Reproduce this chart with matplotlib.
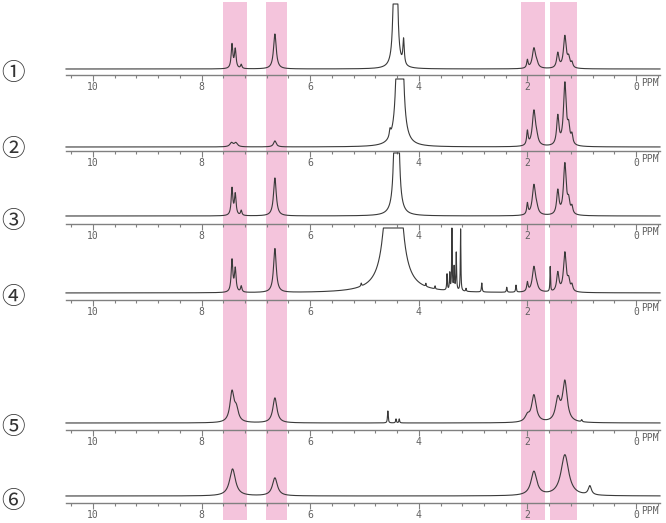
#!/usr/bin/env python
# coding: utf-8

import numpy as np
import matplotlib
matplotlib.use("Agg")
import matplotlib.pyplot as plt

plt.rcParams['font.family'] = ['DejaVu Sans', 'Noto Sans CJK JP']

# Peak lists: (ppm, height in px above baseline, half width in ppm)
peaks_1 = [(7.44, 24, 0.018), (7.38, 19, 0.018), (7.27, 4, 0.015), (6.65, 35, 0.03),
           (4.43, 1400, 0.010), (4.28, 25, 0.015),
           (2.00, 8, 0.015), (1.88, 20, 0.035), (1.83, 4, 0.03),
           (1.44, 15, 0.025), (1.31, 32, 0.03), (1.24, 9, 0.025), (1.18, 5, 0.02)]
peaks_2 = [(7.45, 4, 0.035), (7.37, 4, 0.035), (6.65, 6, 0.03),
           (4.53, 7, 0.015), (4.35, 1770, 0.015),
           (2.00, 14, 0.016), (1.88, 35, 0.035), (1.83, 6, 0.03),
           (1.44, 29, 0.025), (1.31, 62, 0.03), (1.24, 16, 0.025), (1.18, 9, 0.02)]
peaks_3 = [(7.44, 27, 0.018), (7.38, 21, 0.018), (7.27, 5, 0.015), (6.65, 38, 0.03),
           (4.41, 3060, 0.008),
           (2.00, 11, 0.015), (1.88, 30, 0.035), (1.83, 5, 0.03),
           (1.44, 24, 0.025), (1.31, 51, 0.03), (1.24, 12, 0.025), (1.18, 7, 0.02)]
peaks_4 = [(7.44, 32, 0.018), (7.38, 23, 0.018), (7.27, 6, 0.015), (6.65, 44, 0.03),
           (5.06, 3, 0.008), (4.47, 700, 0.059), (3.87, 3, 0.006), (3.70, 3, 0.006),
           (3.48, 16, 0.007), (3.43, 17, 0.007), (3.39, 62, 0.006), (3.35, 23, 0.007),
           (3.31, 38, 0.007), (3.23, 62, 0.006), (3.13, 3, 0.007),
           (2.84, 9, 0.008), (2.38, 5, 0.008), (2.21, 7, 0.008),
           (2.00, 9, 0.015), (1.88, 25, 0.035), (1.83, 4, 0.03), (1.58, 25, 0.006),
           (1.44, 19, 0.025), (1.31, 39, 0.03), (1.24, 10, 0.025), (1.18, 6, 0.02)]
peaks_5 = [(7.44, 30, 0.045), (7.36, 12, 0.045), (6.65, 25, 0.045),
           (4.57, 12, 0.008), (4.42, 4, 0.008), (4.36, 4, 0.008),
           (2.00, 6, 0.05), (1.88, 27, 0.05),
           (1.44, 22, 0.05), (1.31, 40, 0.05), (1.00, 2, 0.01)]
peaks_6 = [(7.43, 27, 0.065), (6.65, 18, 0.055),
           (1.88, 24, 0.065), (1.31, 41, 0.085), (0.85, 9, 0.035)]
clip_heights = [65, 68, 63, 65, 80, 80]

all_peaks = [peaks_1, peaks_2, peaks_3, peaks_4, peaks_5, peaks_6]
labels = ["①", "②", "③", "④", "⑤", "⑥"]

# Highlighted regions (ppm)
bands = [(7.61, 7.16), (6.81, 6.43), (2.12, 1.68), (1.58, 1.09)]

tick_labels = ["10", "8", "6", "4", "2", "0"]
label_ppm = [10, 8, 6, 4, 2, 0]

# Layout in pixels (from top of the picture)
W, H = 666, 523
x_left, x_right = 66, 660
ppm_left, ppm_right = 10.497, -0.442
baseline_px = [69, 147, 216, 293, 423, 496]
axis_px = [75, 151, 224, 300, 430, 503]
row_height = 70


def spectrum(ppm, peaks, clip):
    """
    Sum of Lorentzian lines given as (position, height, half width),
    flattened at the clip height like the plotter did.
    """
    y = np.zeros_like(ppm)
    for pos, height, width in peaks:
        y += height * width ** 2 / ((ppm - pos) ** 2 + width ** 2)
    return np.minimum(y, clip)


fig = plt.figure(figsize=(W / 100, H / 100), dpi=100)

# Pink bands behind everything
bg = fig.add_axes([x_left / W, 0, (x_right - x_left) / W, 1])
bg.set_xlim(ppm_left, ppm_right)
bg.set_ylim(0, 1)
bg.axis("off")
for a, b in bands:
    bg.axvspan(a, b, ymin=3 / H, ymax=521 / H, color="#f4c4dc", lw=0)

ppm = np.linspace(ppm_left, ppm_right, 8000)
ticks = np.arange(-0.4, 10.45, 0.4)

for i in range(6):
    bottom = (H - axis_px[i]) / H
    ax = fig.add_axes([x_left / W, bottom, (x_right - x_left) / W, row_height / H])
    ax.patch.set_alpha(0)
    ax.set_xlim(ppm_left, ppm_right)
    ax.set_ylim(0, row_height)
    for s in ["top", "left", "right"]:
        ax.spines[s].set_visible(False)
    ax.spines["bottom"].set_color("#808080")
    ax.spines["bottom"].set_linewidth(1.0)
    ax.set_yticks([])
    ax.set_xticks(ticks, minor=True)
    ax.set_xticks(label_ppm)
    ax.set_xticklabels(tick_labels, family="DejaVu Sans Mono", fontsize=7, color="#606060")
    ax.tick_params(axis="x", which="major", direction="out", length=4, width=0.8,
                   color="#808080", pad=1)
    ax.tick_params(axis="x", which="minor", direction="out", length=2.5, width=0.8,
                   color="#808080")
    ax.text(-0.1, -8, "PPM", family="DejaVu Sans Mono", fontsize=7, color="#606060",
            ha="left", va="center")

    off = axis_px[i] - baseline_px[i]
    y = spectrum(ppm, all_peaks[i], clip_heights[i]) + off
    ax.plot(ppm, y, color="#3a3a3a", lw=0.8, clip_on=False)

    fig.text(13 / W, 1 - (axis_px[i] - 2) / H, labels[i], fontsize=17, color="#333333",
             family=["Noto Sans CJK JP", "DejaVu Sans"], ha="center", va="center")

fig.savefig("out.png", dpi=100)
